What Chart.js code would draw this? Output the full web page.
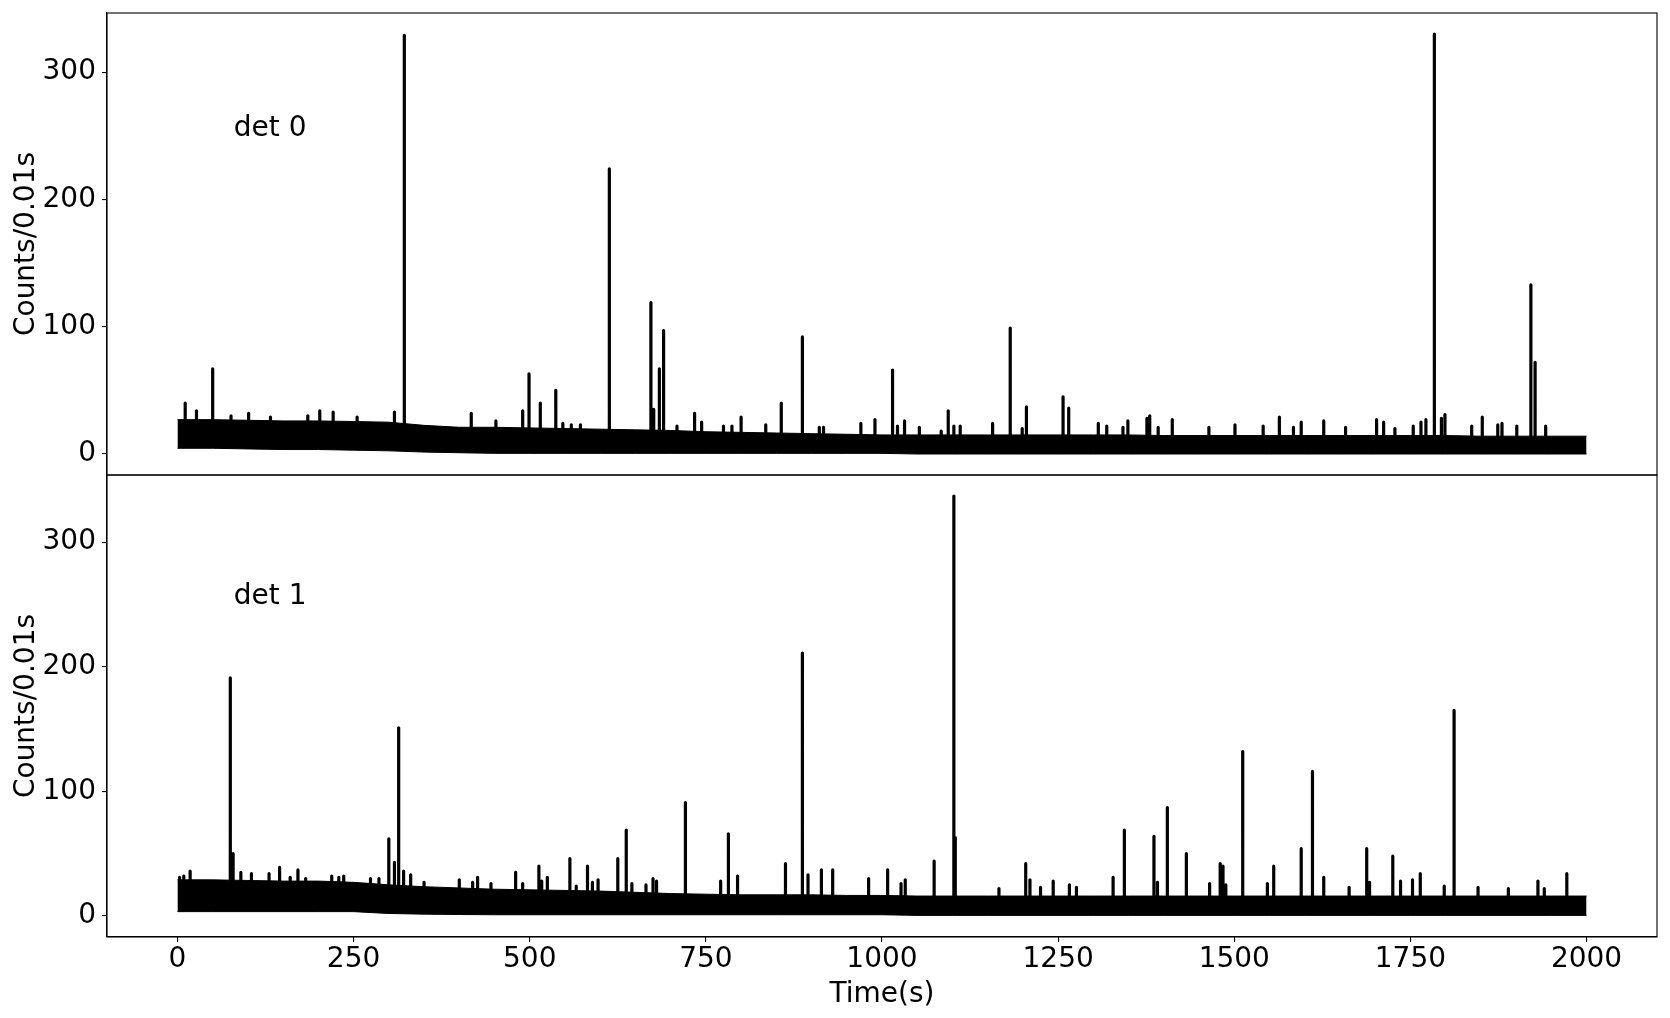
<!DOCTYPE html>
<html>
<head>
<meta charset="utf-8">
<script src="https://cdn.jsdelivr.net/npm/chart.js@4"></script>
<style>
  html, body { margin: 0; padding: 0; background: #fff; }
  #wrap { position: relative; width: 1670px; height: 1018px; }
  canvas { position: absolute; left: 0; }
  #topChart { top: 0; }
  #bottomChart { top: 474px; }
</style>
</head>
<body>
<div id="wrap">
  <canvas id="topChart" width="1670" height="476"></canvas>
  <canvas id="bottomChart" width="1670" height="544"></canvas>
</div>
<script>
// Tick labels
const xTicks = [0, 250, 500, 750, 1000, 1250, 1500, 1750, 2000];
const yTicks = [0, 100, 200, 300];

// Noise band envelope, sampled every 50 s
const bandTimes = [0, 50, 100, 150, 200, 250, 300, 350, 400, 450, 500, 550, 600, 650, 700, 750, 800, 850, 900, 950,
  1000, 1050, 1100, 1150, 1200, 1250, 1300, 1350, 1400, 1450, 1500, 1550, 1600, 1650, 1700, 1750, 1800, 1850, 1900, 1950, 2000];
const det0High = [27, 27, 26.5, 26, 26, 25.5, 25, 22.5, 21, 21, 20.5, 20, 19.5, 19, 18.5, 17.5, 17, 16.5, 16, 15.5,
  15, 15, 15, 15, 15, 15, 15, 15, 14.5, 14.5, 14.5, 14.5, 14.5, 14.5, 14.5, 14.5, 14.5, 14, 14, 14, 14];
const det0Low = [4.5, 4.5, 4, 3.5, 3.5, 3, 2.5, 1.5, 1, 0.5, 0.5, 0.5, 0.5, 0.5, 0.5, 0.5, 0.5, 0.5, 0.5, 0.5,
  0.5, 0, 0, 0, 0, 0, 0, 0, 0, 0, 0, 0, 0, 0, 0, 0, 0, 0, 0, 0, 0];
const det1High = [29, 29, 28.5, 28, 28, 27, 25, 23.5, 22.5, 21.5, 21, 20.5, 20, 19, 18, 17.5, 17, 17, 17, 16.5,
  16.5, 16, 16, 16, 16, 16, 16, 16, 16, 16, 16, 16, 16, 16, 16, 16, 16, 16, 16, 16, 16];
const det1Low = [3.5, 3.5, 3.5, 3.5, 3.5, 3.5, 2, 1.5, 1.2, 1, 1, 1, 1, 1, 1, 1, 1, 1, 1, 1,
  1, 0.5, 0.5, 0.5, 0.5, 0.5, 0.5, 0.5, 0.5, 0.5, 0.5, 0.5, 0.5, 0.5, 0.5, 0.5, 0.5, 0.5, 0.5, 0.5, 0.5];

// Spikes: [time (s), peak counts]
const det0Spikes = [[11, 40], [27, 34], [50, 67], [76, 30], [101, 32], [132, 29], [185, 30], [202, 34], [221, 33], [255, 29],
  [308, 33], [322, 329], [417, 32], [452, 26], [490, 34], [499, 63], [515, 40], [537, 50], [547, 24], [559, 23], [572, 23],
  [613, 224], [672, 119], [676, 35], [684, 67], [690, 97], [709, 22], [734, 32], [744, 25], [775, 22], [787, 22], [800, 29],
  [835, 23], [857, 40], [887, 92], [911, 21], [917, 21], [970, 24], [990, 27], [1015, 66], [1022, 22], [1032, 26], [1053, 21],
  [1084, 18], [1094, 34], [1102, 22], [1111, 22], [1157, 24], [1182, 99], [1199, 20], [1205, 37], [1257, 45], [1265, 36],
  [1307, 24], [1319, 22], [1342, 21], [1349, 26], [1376, 28], [1380, 30], [1392, 21], [1412, 27], [1464, 21], [1501, 23],
  [1541, 22], [1564, 29], [1584, 21], [1595, 25], [1627, 26], [1658, 21], [1702, 27], [1712, 25], [1728, 20], [1754, 22],
  [1765, 25], [1772, 27], [1784, 330], [1794, 28], [1799, 31], [1837, 22], [1852, 29], [1874, 23], [1880, 24], [1901, 22],
  [1921, 133], [1927, 72], [1942, 22]];
const det1Spikes = [[3, 31], [9, 32], [18, 36], [75, 191], [79, 50], [90, 35], [105, 34], [130, 34], [145, 39], [160, 31],
  [171, 37], [182, 30], [219, 32], [229, 31], [236, 32], [274, 30], [286, 30], [300, 62], [308, 43], [314, 151], [321, 36],
  [331, 33], [350, 27], [400, 29], [419, 27], [426, 31], [445, 26], [480, 35], [490, 26], [513, 40], [517, 28], [525, 31],
  [557, 46], [566, 24], [582, 40], [589, 27], [597, 29], [625, 46], [637, 69], [645, 26], [665, 25], [675, 30], [680, 28],
  [721, 91], [771, 28], [782, 66], [795, 32], [863, 42], [887, 211], [895, 33], [914, 37], [930, 37], [981, 30], [1008, 37],
  [1027, 26], [1033, 29], [1074, 44], [1102, 337], [1104, 63], [1166, 22], [1204, 42], [1210, 29], [1225, 23], [1243, 28],
  [1266, 25], [1276, 23], [1328, 31], [1344, 69], [1386, 64], [1391, 27], [1405, 87], [1432, 50], [1465, 26], [1480, 42],
  [1484, 40], [1488, 25], [1512, 132], [1547, 26], [1556, 40], [1595, 54], [1611, 116], [1627, 31], [1663, 23], [1688, 54],
  [1692, 27], [1725, 48], [1736, 28], [1753, 29], [1764, 34], [1798, 24], [1812, 165], [1846, 23], [1889, 22], [1931, 28],
  [1940, 22], [1972, 34]];

const panelLabels = ['det 0', 'det 1'];
const labelTime = 80;
const labelCounts = 250;

Chart.defaults.font.family = 'DejaVu Sans';
Chart.defaults.font.size = 28;
Chart.defaults.color = '#000';

// frame around the plot area + "det N" text
const framePlugin = {
    id: 'frame',
    afterDraw(chart, args, opts) {
        const { ctx, chartArea: a, scales } = chart;
        ctx.save();
        ctx.strokeStyle = '#000';
        ctx.lineWidth = 1.1;
        ctx.strokeRect(a.left, a.top, a.right - a.left, a.bottom - a.top);
        ctx.fillStyle = '#000';
        ctx.font = '28px "DejaVu Sans"';
        ctx.textAlign = 'left';
        ctx.textBaseline = 'alphabetic';
        ctx.fillText(opts.label, scales.x.getPixelForValue(labelTime), scales.y.getPixelForValue(labelCounts));
        ctx.restore();
    }
};

function spikePoints(spikes) {
    const pts = [];
    spikes.forEach(([t, c]) => {
        pts.push({ x: t, y: 8 }, { x: t, y: c }, { x: t, y: null });
    });
    return pts;
}

function makeChart(canvasId, high, low, spikes, label, showX) {
    const peak = Math.max(...spikes.map(s => s[1]));
    const ctx = document.getElementById(canvasId).getContext('2d');
    return new Chart(ctx, {
        type: 'line',
        data: {
            datasets: [{
                data: bandTimes.map((t, i) => ({ x: t, y: high[i] })),
                borderColor: '#000',
                backgroundColor: '#000',
                borderWidth: 1,
                pointRadius: 0,
                fill: '+1'
            }, {
                data: bandTimes.map((t, i) => ({ x: t, y: low[i] })),
                borderColor: '#000',
                borderWidth: 1,
                pointRadius: 0,
                fill: false
            }, {
                data: spikePoints(spikes),
                borderColor: '#000',
                borderWidth: 3.2,
                borderCapStyle: 'round',
                pointRadius: 0,
                spanGaps: false,
                fill: false
            }]
        },
        options: {
            responsive: false,
            animation: false,
            devicePixelRatio: 1,
            layout: { padding: showX ? { top: 1, right: 13, bottom: 0, left: 0 } : { top: 13, right: 13, bottom: 1, left: 0 } },
            plugins: {
                legend: { display: false },
                tooltip: { enabled: false },
                frame: { label: label }
            },
            scales: {
                x: {
                    type: 'linear',
                    display: showX,
                    min: -100,
                    max: 2100,
                    afterBuildTicks: s => { s.ticks = xTicks.map(v => ({ value: v })); },
                    afterFit: s => {
                        if (showX) s.height = 81;
                        s.paddingLeft = 0;
                        s.paddingRight = 0;
                    },
                    ticks: { autoSkip: false, maxRotation: 0, padding: 1, color: '#000', callback: v => String(v) },
                    grid: { drawOnChartArea: false, drawTicks: true, tickLength: 5, color: '#000', lineWidth: 1.1 },
                    border: { display: true, color: '#000', width: 1.1 },
                    title: { display: true, text: 'Time(s)', color: '#000', padding: { top: 0, bottom: 6 } }
                },
                y: {
                    type: 'linear',
                    min: -0.05 * peak,
                    max: 1.05 * peak,
                    afterBuildTicks: s => { s.ticks = yTicks.map(v => ({ value: v })); },
                    afterFit: s => {
                        s.width = 107;
                        s.paddingTop = 0;
                        s.paddingBottom = 0;
                    },
                    ticks: { padding: 6, color: '#000', callback: v => String(v) },
                    grid: { drawOnChartArea: false, drawTicks: true, tickLength: 5, color: '#000', lineWidth: 1.1 },
                    border: { display: true, color: '#000', width: 1.1 },
                    title: { display: true, text: 'Counts/0.01s', color: '#000', padding: { top: 10, bottom: 0 } }
                }
            }
        },
        plugins: [framePlugin]
    });
}

makeChart('topChart', det0High, det0Low, det0Spikes, panelLabels[0], false);
makeChart('bottomChart', det1High, det1Low, det1Spikes, panelLabels[1], true);
</script>
</body>
</html>
